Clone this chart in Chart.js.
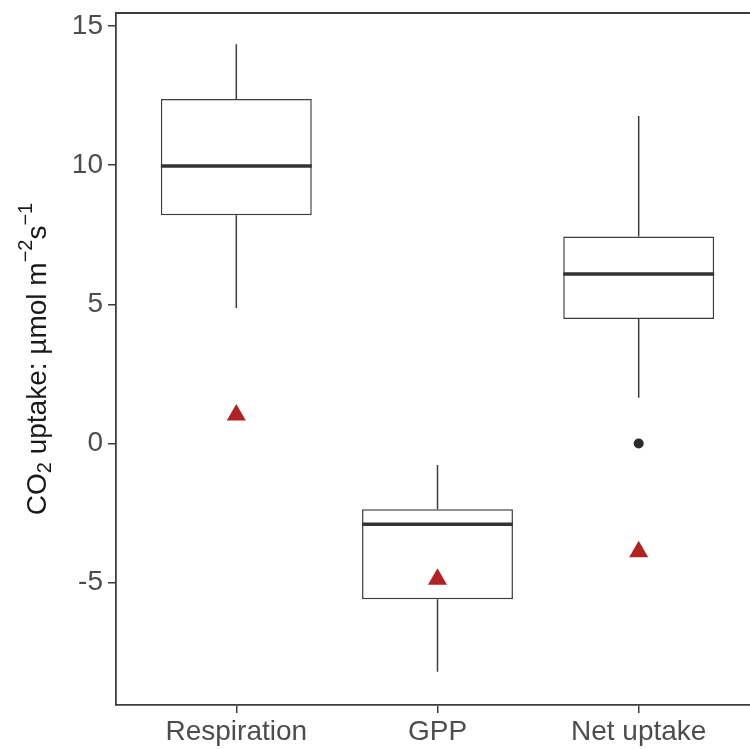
<!DOCTYPE html>
<html>
<head>
<meta charset="utf-8">
<script src="https://cdn.jsdelivr.net/npm/chart.js@4"></script>
<style>
  html, body { margin: 0; padding: 0; background: #fff; overflow: hidden; }
  canvas { display: block; }
</style>
</head>
<body>
<canvas id="chart" width="770" height="749"></canvas>
<script>
const categories = ['Respiration', 'GPP', 'Net uptake'];
const whiskerLow = [4.87, -8.2, 1.64];
const q1 = [8.2, -5.59, 4.47];
const median = [9.97, -2.9, 6.09];
const q3 = [12.37, -2.36, 7.43];
const whiskerHigh = [14.34, -0.77, 11.76];
const triangles = [1.02, -4.87, -3.89];
const outliers = [[], [], [0]];
const yTicks = [-5, 0, 5, 10, 15];

const FONT = "'Liberation Sans', Arial, sans-serif";
const LINE = '#3d3d3d';

// whiskers + median on top of the boxes
const boxExtras = {
  id: 'boxExtras',
  afterDatasetDraw(chart, args) {
    if (args.meta.type !== 'bar') return;
    const { ctx } = chart;
    const x = chart.scales.x, y = chart.scales.y;
    args.meta.data.forEach((bar, i) => {
      const cx = x.getPixelForValue(i + 1);
      const half = bar.width / 2;
      ctx.save();
      ctx.strokeStyle = LINE;
      ctx.lineWidth = 1.5;
      ctx.beginPath();
      ctx.moveTo(cx, y.getPixelForValue(q3[i]));
      ctx.lineTo(cx, y.getPixelForValue(whiskerHigh[i]));
      ctx.moveTo(cx, y.getPixelForValue(q1[i]));
      ctx.lineTo(cx, y.getPixelForValue(whiskerLow[i]));
      ctx.stroke();
      ctx.lineWidth = 3.5;
      ctx.strokeStyle = '#333';
      ctx.beginPath();
      ctx.moveTo(cx - half, y.getPixelForValue(median[i]));
      ctx.lineTo(cx + half, y.getPixelForValue(median[i]));
      ctx.stroke();
      ctx.restore();
    });
  }
};

// top frame line and the y axis title with sub/superscripts
const frame = {
  id: 'frame',
  afterDraw(chart) {
    const { ctx, chartArea } = chart;
    ctx.save();
    ctx.strokeStyle = LINE;
    ctx.lineWidth = 1.8;
    ctx.beginPath();
    ctx.moveTo(chartArea.left, chartArea.top);
    ctx.lineTo(chartArea.right, chartArea.top);
    ctx.stroke();

    const size = 28, small = 20;
    const parts = [
      { t: 'CO', s: size, dy: 0 },
      { t: '2', s: small, dy: 7 },
      { t: ' uptake: \u00b5mol m', s: size, dy: 0 },
      { t: '\u22122', s: small, dy: -12 },
      { t: 's', s: size, dy: 0 },
      { t: '\u22121', s: small, dy: -12 }
    ];
    let total = 0;
    parts.forEach(p => { ctx.font = p.s + 'px ' + FONT; p.w = ctx.measureText(p.t).width; total += p.w; });
    ctx.translate(38, (chartArea.top + chartArea.bottom) / 2);
    ctx.rotate(-Math.PI / 2);
    ctx.fillStyle = '#1a1a1a';
    ctx.textBaseline = 'middle';
    let px = -total / 2;
    parts.forEach(p => {
      ctx.font = p.s + 'px ' + FONT;
      ctx.fillText(p.t, px, p.dy);
      px += p.w;
    });
    ctx.restore();
  }
};

const outlierPoints = [];
outliers.forEach((list, i) => list.forEach(v => outlierPoints.push({ x: i + 1, y: v })));

new Chart(document.getElementById('chart'), {
  type: 'bar',
  data: {
    datasets: [
      {
        type: 'scatter',
        data: triangles.map((v, i) => ({ x: i + 1, y: v })),
        pointStyle: 'triangle',
        pointRadius: 11,
        backgroundColor: '#b22222',
        borderWidth: 0,
        order: 0
      },
      {
        type: 'scatter',
        data: outlierPoints,
        pointStyle: 'circle',
        pointRadius: 5,
        backgroundColor: '#2b2b2b',
        borderWidth: 0,
        order: 1
      },
      {
        type: 'bar',
        data: q1.map((v, i) => ({ x: i + 1, y: [v, q3[i]] })),
        backgroundColor: '#ffffff',
        borderColor: LINE,
        borderWidth: 1.5,
        borderSkipped: false,
        barPercentage: 0.75,
        categoryPercentage: 1,
        order: 2
      }
    ]
  },
  options: {
    responsive: false,
    animation: false,
    events: [],
    layout: { padding: { top: 13, right: 10, left: 0, bottom: 0 } },
    plugins: { legend: { display: false }, tooltip: { enabled: false } },
    scales: {
      x: {
        type: 'linear',
        min: 0.402,
        max: 3.598,
        offset: false,
        afterBuildTicks: s => { s.ticks = categories.map((c, i) => ({ value: i + 1 })); },
        afterFit: s => { s.height = 44; s.paddingLeft = 0; s.paddingRight = 0; },
        ticks: {
          callback: v => categories[v - 1],
          font: { family: FONT, size: 28 },
          color: '#4d4d4d',
          padding: 2,
          maxRotation: 0,
          autoSkip: false
        },
        grid: { offset: false, drawOnChartArea: false, drawTicks: true, tickLength: 8, color: LINE, lineWidth: 1.5 },
        border: { display: true, color: LINE, width: 1.8 }
      },
      y: {
        type: 'linear',
        min: -9.39,
        max: 15.46,
        afterBuildTicks: s => { s.ticks = yTicks.map(v => ({ value: v })); },
        afterFit: s => { s.width = 116; s.paddingTop = 0; s.paddingBottom = 0; },
        ticks: {
          font: { family: FONT, size: 28 },
          color: '#4d4d4d',
          padding: 5
        },
        grid: { drawOnChartArea: false, drawTicks: true, tickLength: 8, color: LINE, lineWidth: 1.5 },
        border: { display: true, color: LINE, width: 1.8 }
      }
    }
  },
  plugins: [boxExtras, frame]
});
</script>
</body>
</html>
